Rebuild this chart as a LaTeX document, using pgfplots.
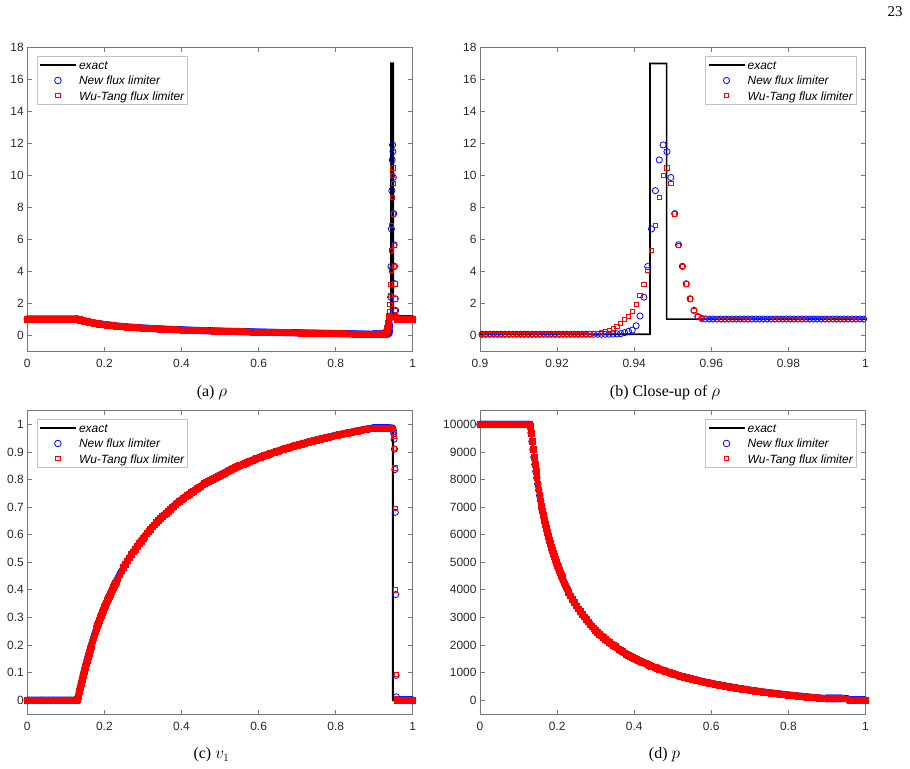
\documentclass[border=0pt]{standalone}
\usepackage{fontspec}
\setmainfont{Liberation Serif}
\setsansfont{Liberation Sans}
\usepackage{pgfplots}
\usepackage{pgfplotstable}
\pgfplotsset{compat=1.18}

\definecolor{axgray}{RGB}{120,120,120}
\definecolor{ticktext}{RGB}{40,40,40}
\definecolor{leggray}{RGB}{195,195,195}
\newcommand\lstrut{\rule[-3.7bp]{0pt}{14bp}}

% Rarefaction fan and left state (both schemes coincide here): x, density, velocity, pressure
\pgfplotstableread{
x rho v p
0 1 0 10000
0.005 1 0 10000
0.01 1 0 10000
0.015 1 0 10000
0.02 1 0 10000
0.025 1 0 10000
0.03 1 0 10000
0.035 1 0 10000
0.04 1 0 10000
0.045 1 0 10000
0.05 1 0 10000
0.055 1 0 10000
0.06 1 0 10000
0.065 1 0 10000
0.07 1 0 10000
0.075 1 0 10000
0.08 1 0 10000
0.085 1 0 10000
0.09 1 0 10000
0.095 1 0 10000
0.1 1 0 10000
0.105 1 0 10000
0.11 1 0 10000
0.115 1 0 10000
0.12 1 0 10000
0.125 1 0 10000
0.1275 0.999 0.0005 9995
0.13 0.996 0.003 9940
0.1325 0.9812 0.0155 9688
0.135 0.9622 0.0314 9378
0.1375 0.9441 0.0470 9085
0.14 0.9267 0.0621 8809
0.1425 0.9100 0.0768 8546
0.145 0.8941 0.0912 8298
0.1475 0.8787 0.1052 8062
0.15 0.8639 0.1188 7837
0.1525 0.8497 0.1322 7623
0.155 0.8360 0.1452 7419
0.1575 0.8228 0.1579 7225
0.16 0.8100 0.1703 7039
0.1625 0.7977 0.1825 6862
0.165 0.7858 0.1943 6692
0.1675 0.7742 0.2059 6529
0.17 0.7631 0.2172 6373
0.1725 0.7523 0.2283 6223
0.175 0.7418 0.2392 6079
0.1775 0.7316 0.2498 5941
0.18 0.7217 0.2601 5807
0.1825 0.7121 0.2703 5679
0.185 0.7028 0.2802 5556
0.1875 0.6937 0.2900 5437
0.19 0.6849 0.2995 5322
0.1925 0.6763 0.3089 5211
0.195 0.6680 0.3181 5104
0.1975 0.6598 0.3270 5001
0.2 0.6519 0.3359 4901
0.2025 0.6441 0.3445 4804
0.205 0.6365 0.3530 4711
0.2075 0.6291 0.3613 4620
0.21 0.6219 0.3694 4532
0.2125 0.6149 0.3774 4447
0.215 0.6080 0.3853 4364
0.2175 0.6013 0.3930 4284
0.22 0.5947 0.4005 4206
0.2225 0.5883 0.4080 4131
0.225 0.5820 0.4153 4057
0.2275 0.5758 0.4224 3986
0.23 0.5698 0.4295 3916
0.235 0.5581 0.4432 3783
0.24 0.5468 0.4565 3657
0.245 0.5360 0.4693 3537
0.25 0.5256 0.4817 3424
0.255 0.5156 0.4937 3315
0.26 0.5059 0.5053 3212
0.265 0.4966 0.5165 3114
0.27 0.4875 0.5274 3020
0.275 0.4788 0.5380 2931
0.28 0.4703 0.5482 2845
0.285 0.4622 0.5582 2763
0.29 0.4542 0.5679 2684
0.295 0.4465 0.5773 2609
0.3 0.4390 0.5864 2536
0.305 0.4317 0.5953 2467
0.31 0.4247 0.6039 2400
0.315 0.4178 0.6123 2335
0.32 0.4111 0.6204 2273
0.325 0.4046 0.6284 2214
0.33 0.3983 0.6361 2156
0.335 0.3921 0.6437 2101
0.34 0.3861 0.6511 2047
0.345 0.3801 0.6582 1995
0.35 0.3744 0.6652 1945
0.355 0.3688 0.6720 1897
0.36 0.3633 0.6787 1850
0.365 0.3579 0.6852 1805
0.37 0.3527 0.6916 1761
0.375 0.3475 0.6978 1718
0.38 0.3425 0.7038 1677
0.385 0.3376 0.7098 1637
0.39 0.3327 0.7156 1598
0.395 0.3280 0.7212 1560
0.4 0.3234 0.7267 1524
0.405 0.3188 0.7322 1488
0.41 0.3143 0.7375 1453
0.415 0.3100 0.7426 1420
0.42 0.3057 0.7477 1387
0.425 0.3014 0.7527 1355
0.43 0.2973 0.7576 1324
0.435 0.2932 0.7623 1294
0.44 0.2892 0.7670 1265
0.445 0.2852 0.7716 1236
0.45 0.2813 0.7761 1208
0.455 0.2775 0.7805 1181
0.46 0.2738 0.7848 1154
0.465 0.2701 0.7890 1129
0.47 0.2664 0.7932 1103
0.475 0.2628 0.7972 1079
0.48 0.2593 0.8012 1055
0.485 0.2558 0.8052 1031
0.49 0.2524 0.8090 1008
0.495 0.2490 0.8128 985
0.5 0.2456 0.8165 964
0.505 0.2423 0.8202 942
0.51 0.2391 0.8237 921
0.515 0.2359 0.8273 901
0.52 0.2327 0.8307 881
0.525 0.2296 0.8341 861
0.53 0.2265 0.8374 841
0.535 0.2234 0.8407 823
0.54 0.2204 0.8440 804
0.545 0.2174 0.8471 786
0.55 0.2145 0.8502 769
0.555 0.2116 0.8533 751
0.56 0.2087 0.8563 734
0.565 0.2058 0.8593 718
0.57 0.2030 0.8622 701
0.575 0.2002 0.8651 685
0.58 0.1974 0.8680 669
0.585 0.1947 0.8707 654
0.59 0.1919 0.8735 639
0.595 0.1893 0.8762 624
0.6 0.1866 0.8789 609
0.605 0.1840 0.8815 595
0.61 0.1813 0.8840 581
0.615 0.1788 0.8866 567
0.62 0.1762 0.8891 554
0.625 0.1737 0.8916 541
0.63 0.1711 0.8940 528
0.635 0.1686 0.8964 515
0.64 0.1661 0.8988 502
0.645 0.1636 0.9011 490
0.65 0.1611 0.9034 477
0.655 0.1587 0.9057 465
0.66 0.1563 0.9079 454
0.665 0.1539 0.9101 442
0.67 0.1515 0.9123 431
0.675 0.1491 0.9144 419
0.68 0.1467 0.9165 409
0.685 0.1444 0.9186 398
0.69 0.1421 0.9206 387
0.695 0.1398 0.9227 376
0.7 0.1374 0.9247 366
0.705 0.1351 0.9267 356
0.71 0.1329 0.9286 346
0.715 0.1306 0.9305 336
0.72 0.1283 0.9324 326
0.725 0.1260 0.9343 317
0.73 0.1238 0.9362 307
0.735 0.1215 0.9380 298
0.74 0.1193 0.9398 289
0.745 0.1170 0.9416 280
0.75 0.1148 0.9433 271
0.755 0.1126 0.9451 263
0.76 0.1104 0.9468 254
0.765 0.1081 0.9485 246
0.77 0.1059 0.9501 237
0.775 0.1037 0.9518 229
0.78 0.1015 0.9534 221
0.785 0.0993 0.9550 213
0.79 0.0970 0.9566 205
0.795 0.0948 0.9582 197
0.8 0.0926 0.9598 190
0.805 0.0903 0.9613 182
0.81 0.0881 0.9628 175
0.815 0.0859 0.9644 167
0.82 0.0836 0.9658 160
0.825 0.0813 0.9673 153
0.83 0.0791 0.9688 146
0.835 0.0768 0.9702 139
0.84 0.0745 0.9716 132
0.845 0.0722 0.9730 125
0.85 0.0698 0.9744 119
0.855 0.0675 0.9758 112
0.86 0.0651 0.9772 105
0.865 0.0627 0.9785 99
0.87 0.0603 0.9798 93
0.875 0.0578 0.9812 86
0.88 0.0553 0.9825 80
0.885 0.0528 0.9837 74
0.89 0.0502 0.9850 68
}\fan

% Exact solution from the rarefaction tail through contact and shock
\pgfplotstableread{
x rho v p
0.89 0.0502 0.9850 68
0.894 0.048 0.986 64
0.9441 0.048 0.986 64
0.9441 17 0.986 64
0.9484 17 0.986 64
0.9484 1 0 0.01
1 1 0 0.01
}\tail

% Cell values near the contact and shock: n = new limiter, w = Wu-Tang limiter
\pgfplotstableread{
x rn rw vn vw pn pw
0.8955 0.048 0.048 0.986 0.986 64 64
0.8965 0.048 0.048 0.986 0.986 64 64
0.8975 0.048 0.048 0.986 0.986 64 64
0.8985 0.048 0.048 0.986 0.986 64 64
0.8995 0.048 0.048 0.986 0.986 64 64
0.9005 0.048 0.048 0.986 0.986 64 64
0.9015 0.048 0.048 0.986 0.986 64 64
0.9025 0.048 0.048 0.986 0.986 64 64
0.9035 0.048 0.048 0.986 0.986 64 64
0.9045 0.048 0.048 0.986 0.986 64 64
0.9055 0.048 0.048 0.986 0.986 64 64
0.9065 0.048 0.048 0.986 0.986 64 64
0.9075 0.048 0.048 0.986 0.986 64 64
0.9085 0.048 0.048 0.986 0.986 64 64
0.9095 0.048 0.048 0.986 0.986 64 64
0.9105 0.048 0.048 0.986 0.986 64 64
0.9115 0.048 0.048 0.986 0.986 64 64
0.9125 0.048 0.048 0.986 0.986 64 64
0.9135 0.048 0.048 0.986 0.986 64 64
0.9145 0.048 0.048 0.986 0.986 64 64
0.9155 0.048 0.048 0.986 0.986 64 64
0.9165 0.048 0.048 0.986 0.986 64 64
0.9175 0.048 0.048 0.986 0.986 64 64
0.9185 0.048 0.048 0.986 0.986 64 64
0.9195 0.048 0.048 0.986 0.986 64 64
0.9205 0.048 0.048 0.986 0.986 64 64
0.9215 0.048 0.048 0.986 0.986 64 64
0.9225 0.048 0.048 0.986 0.986 64 64
0.9235 0.048 0.048 0.986 0.986 64 64
0.9245 0.048 0.048 0.986 0.986 64 64
0.9255 0.048 0.052 0.986 0.986 64 64
0.9265 0.048 0.056 0.986 0.986 64 64
0.9275 0.048 0.062 0.986 0.986 64 64
0.9285 0.048 0.070 0.986 0.986 64 64
0.9295 0.048 0.085 0.986 0.986 64 64
0.9305 0.048 0.110 0.986 0.986 64 64
0.9315 0.049 0.150 0.986 0.986 64 64
0.9325 0.050 0.220 0.986 0.986 64 64
0.9335 0.055 0.310 0.986 0.986 64 64
0.9345 0.060 0.420 0.986 0.986 64 64
0.9355 0.070 0.560 0.986 0.986 64 64
0.9365 0.090 0.730 0.986 0.986 64 64
0.9375 0.150 0.960 0.986 0.986 64 64
0.9385 0.230 1.190 0.986 0.986 64 64
0.9395 0.310 1.460 0.986 0.986 64 64
0.9405 0.580 1.900 0.986 0.986 64 64
0.9415 1.190 2.480 0.986 0.986 64 64
0.9425 2.370 3.160 0.986 0.986 64 64
0.9435 4.290 4.080 0.986 0.986 64 64
0.9445 6.640 5.280 0.986 0.986 64 64
0.9455 9.040 6.840 0.986 0.986 64 64
0.9465 10.96 8.600 0.986 0.986 64 64
0.9475 11.90 9.980 0.986 0.986 64 64
0.9485 11.48 10.46 0.985 0.986 64 64
0.9495 9.860 9.500 0.978 0.981 63 63
0.9505 7.600 7.580 0.966 0.972 62 62
0.9515 5.650 5.630 0.946 0.957 60 60
0.9525 4.300 4.280 0.910 0.912 56 56
0.9535 3.210 3.200 0.836 0.842 48 48
0.9545 2.270 2.260 0.681 0.695 34 34
0.9555 1.540 1.530 0.383 0.400 16 16
0.9565 1.160 1.160 0.090 0.095 4 4
0.9575 1.040 1.040 0.012 0.006 0.5 0.5
0.9585 1.010 1.010 0.001 0.000 0.05 0.05
0.9595 1 1 0 0 0.01 0.01
0.9605 1 1 0 0 0.01 0.01
0.9615 1 1 0 0 0.01 0.01
0.9625 1 1 0 0 0.01 0.01
0.9635 1 1 0 0 0.01 0.01
0.9645 1 1 0 0 0.01 0.01
0.9655 1 1 0 0 0.01 0.01
0.9665 1 1 0 0 0.01 0.01
0.9675 1 1 0 0 0.01 0.01
0.9685 1 1 0 0 0.01 0.01
0.9695 1 1 0 0 0.01 0.01
0.9705 1 1 0 0 0.01 0.01
0.9715 1 1 0 0 0.01 0.01
0.9725 1 1 0 0 0.01 0.01
0.9735 1 1 0 0 0.01 0.01
0.9745 1 1 0 0 0.01 0.01
0.9755 1 1 0 0 0.01 0.01
0.9765 1 1 0 0 0.01 0.01
0.9775 1 1 0 0 0.01 0.01
0.9785 1 1 0 0 0.01 0.01
0.9795 1 1 0 0 0.01 0.01
0.9805 1 1 0 0 0.01 0.01
0.9815 1 1 0 0 0.01 0.01
0.9825 1 1 0 0 0.01 0.01
0.9835 1 1 0 0 0.01 0.01
0.9845 1 1 0 0 0.01 0.01
0.9855 1 1 0 0 0.01 0.01
0.9865 1 1 0 0 0.01 0.01
0.9875 1 1 0 0 0.01 0.01
0.9885 1 1 0 0 0.01 0.01
0.9895 1 1 0 0 0.01 0.01
0.9905 1 1 0 0 0.01 0.01
0.9915 1 1 0 0 0.01 0.01
0.9925 1 1 0 0 0.01 0.01
0.9935 1 1 0 0 0.01 0.01
0.9945 1 1 0 0 0.01 0.01
0.9955 1 1 0 0 0.01 0.01
0.9965 1 1 0 0 0.01 0.01
0.9975 1 1 0 0 0.01 0.01
0.9985 1 1 0 0 0.01 0.01
0.9995 1 1 0 0 0.01 0.01
}\near

\pgfplotsset{
  panel/.style={
    scale only axis, width=385.5bp, height=303.5bp,
    scaled ticks=false,
    axis line style={axgray, line width=0.7bp},
    tick style={axgray, line width=0.7bp},
    major tick length=4.5bp,
    tick align=inside,
    tick label style={font=\sffamily\fontsize{12}{14}\selectfont, text=ticktext},
    xticklabel style={yshift=-4.5bp},
    legend cell align=left,
    legend style={draw=leggray, fill=white, line width=0.7bp,
      font=\sffamily\itshape\fontsize{12}{14}\selectfont,
      inner sep=2bp, row sep=2.2bp, column sep=1bp,
      nodes={inner xsep=1.3bp, inner ysep=0.65bp}},
  },
  exact/.style={black, line width=#1,
    legend image code/.code={\path[draw=none, fill=none] (0bp,0bp) (36bp,0bp);
      \draw[black, line width=1.7bp] (0bp,0bp) -- (36bp,0bp);}},
  newfl/.style={only marks, mark=o, mark size=3.1bp, blue,
    mark options={line width=0.8bp},
    legend image code/.code={\path[draw=none, fill=none] (0bp,0bp) (36bp,0bp);
      \draw[##1] plot coordinates {(18bp,0bp)};}},
  wtfl/.style={only marks, mark=square, mark size=2.1bp, red,
    mark options={line width=0.8bp},
    legend image code/.code={\path[draw=none, fill=none] (0bp,0bp) (36bp,0bp);
      \draw[only marks, mark=square, mark size=2.1bp, red,
        mark options={line width=0.8bp}] plot coordinates {(18bp,0bp)};}},
  % densely packed cells along the smooth profile
  newband/.style={newfl, mark size=3.3bp},
  wtband/.style={wtfl, mark=square*, mark size=2.9bp,
    mark options={draw=red, fill=red, line width=0.6bp}},
  % cells left of, inside and right of the contact/shock layer
  leftcells/.style={restrict x to domain=0.89:0.9390},
  inshock/.style={restrict x to domain=0.9390:0.9590},
  rightcells/.style={restrict x to domain=0.9590:1.001},
  unitx/.style={xmin=0, xmax=1,
    xtick={0,0.2,0.4,0.6,0.8,1}, xticklabels={0,0.2,0.4,0.6,0.8,1}},
}

\begin{document}
\begin{tikzpicture}
\path[use as bounding box] (0bp,0bp) rectangle (910bp,-769bp);

% (a) density over the whole domain
\begin{axis}[panel, unitx, at={(27.3bp,-351bp)}, anchor=south west,
  ymin=-1, ymax=18,
  ytick={0,2,4,6,8,10,12,14,16,18}, yticklabels={0,2,4,6,8,10,12,14,16,18},
  legend style={at={(0.0244,0.971)}, anchor=north west}]
\addplot[exact=2.2bp] table[x=x, y=rho] {\fan};
\addlegendentry{\lstrut exact}
\addplot[exact=2.2bp, forget plot] table[x=x, y=rho] {\tail};
\addplot[newband] table[x=x, y=rho] {\fan};
\addlegendentry{\lstrut New flux limiter}
\addplot[newband, leftcells, forget plot] table[x=x, y=rn] {\near};
\addplot[newband, rightcells, forget plot] table[x=x, y=rn] {\near};
\addplot[newfl, inshock, forget plot] table[x=x, y=rn] {\near};
\addplot[wtband] table[x=x, y=rho] {\fan};
\addlegendentry{\lstrut Wu-Tang flux limiter}
\addplot[wtband, leftcells, forget plot] table[x=x, y=rw] {\near};
\addplot[wtband, rightcells, forget plot] table[x=x, y=rw] {\near};
\addplot[wtfl, inshock, forget plot] table[x=x, y=rw] {\near};
\end{axis}

% (b) close-up of the density shell
\begin{axis}[panel, at={(480bp,-351bp)}, anchor=south west,
  xmin=0.9, xmax=1, ymin=-1, ymax=18,
  xtick={0.9,0.92,0.94,0.96,0.98,1}, xticklabels={0.9,0.92,0.94,0.96,0.98,1},
  ytick={0,2,4,6,8,10,12,14,16,18}, yticklabels={0,2,4,6,8,10,12,14,16,18},
  legend style={at={(0.9767,0.971)}, anchor=north east}]
\addplot[exact=1.6bp] table[x=x, y=rho] {\tail};
\addlegendentry{\lstrut exact}
\addplot[newfl, restrict x to domain=0.8995:1.001] table[x=x, y=rn] {\near};
\addlegendentry{\lstrut New flux limiter}
\addplot[wtfl, restrict x to domain=0.8995:1.001] table[x=x, y=rw] {\near};
\addlegendentry{\lstrut Wu-Tang flux limiter}
\end{axis}

% (c) velocity
\begin{axis}[panel, unitx, at={(27.3bp,-714bp)}, anchor=south west,
  ymin=-0.05, ymax=1.05,
  ytick={0,0.1,0.2,0.3,0.4,0.5,0.6,0.7,0.8,0.9,1},
  yticklabels={0,0.1,0.2,0.3,0.4,0.5,0.6,0.7,0.8,0.9,1},
  legend style={at={(0.0244,0.971)}, anchor=north west}]
\addplot[exact=2bp] table[x=x, y=v] {\fan};
\addlegendentry{\lstrut exact}
\addplot[exact=2bp, forget plot] table[x=x, y=v] {\tail};
\addplot[newband] table[x=x, y=v] {\fan};
\addlegendentry{\lstrut New flux limiter}
\addplot[newband, leftcells, forget plot] table[x=x, y=vn] {\near};
\addplot[newband, rightcells, forget plot] table[x=x, y=vn] {\near};
\addplot[newfl, inshock, forget plot] table[x=x, y=vn] {\near};
\addplot[wtband] table[x=x, y=v] {\fan};
\addlegendentry{\lstrut Wu-Tang flux limiter}
\addplot[wtband, leftcells, forget plot] table[x=x, y=vw] {\near};
\addplot[wtband, rightcells, forget plot] table[x=x, y=vw] {\near};
\addplot[wtfl, inshock, forget plot] table[x=x, y=vw] {\near};
\end{axis}

% (d) pressure
\begin{axis}[panel, unitx, at={(480bp,-714bp)}, anchor=south west,
  ymin=-500, ymax=10500,
  ytick={0,1000,2000,3000,4000,5000,6000,7000,8000,9000,10000},
  yticklabels={0,1000,2000,3000,4000,5000,6000,7000,8000,9000,10000},
  legend style={at={(0.9767,0.971)}, anchor=north east}]
\addplot[exact=2bp] table[x=x, y=p] {\fan};
\addlegendentry{\lstrut exact}
\addplot[exact=2bp, forget plot] table[x=x, y=p] {\tail};
\addplot[newband] table[x=x, y=p] {\fan};
\addlegendentry{\lstrut New flux limiter}
\addplot[newband, leftcells, forget plot] table[x=x, y=pn] {\near};
\addplot[newband, rightcells, forget plot] table[x=x, y=pn] {\near};
\addplot[newfl, inshock, forget plot] table[x=x, y=pn] {\near};
\addplot[wtband] table[x=x, y=p] {\fan};
\addlegendentry{\lstrut Wu-Tang flux limiter}
\addplot[wtband, leftcells, forget plot] table[x=x, y=pw] {\near};
\addplot[wtband, rightcells, forget plot] table[x=x, y=pw] {\near};
\addplot[wtfl, inshock, forget plot] table[x=x, y=pw] {\near};
\end{axis}

\begin{scope}[font=\fontsize{16}{19}\selectfont]
\node at (212bp,-392.5bp) {(a) $\rho$};
\node at (665bp,-392.5bp) {(b) Close-up of $\rho$};
\node at (211.5bp,-755bp) {(c) $v_1$};
\node at (664.5bp,-755bp) {(d) $p$};
\end{scope}
\node[font=\fontsize{15}{18}\selectfont] at (895bp,-12bp) {23};
\end{tikzpicture}
\end{document}
